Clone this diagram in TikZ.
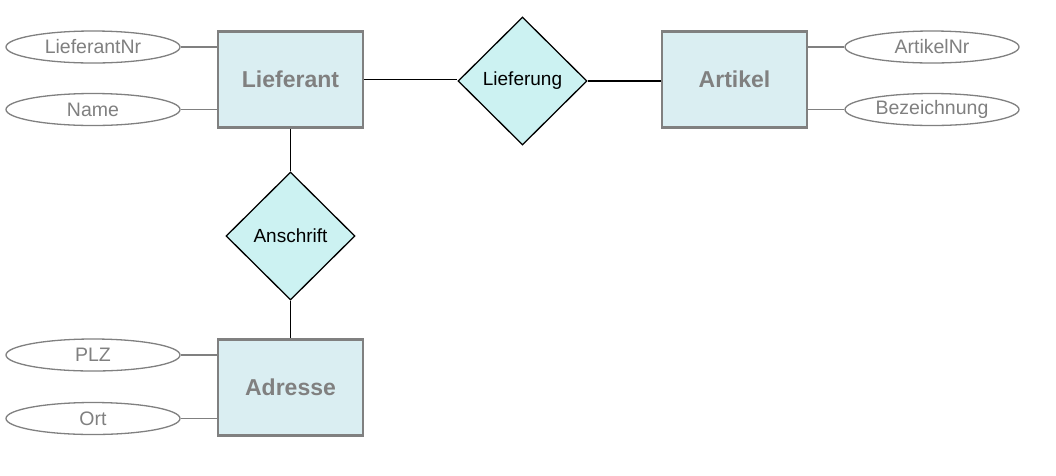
\documentclass[tikz,border=0pt]{standalone}
\usepackage{fontspec}
\setmainfont{Liberation Sans}
\usetikzlibrary{shapes.geometric}
\definecolor{entfill}{HTML}{DAEEF2}
\definecolor{relfill}{HTML}{CCF2F2}
\definecolor{grayc}{HTML}{808080}
\begin{document}
\begin{tikzpicture}[x=1pt,y=-1pt,
 entity/.style={draw=grayc, line width=2.8pt, fill=entfill, minimum width=145pt, minimum height=96pt, inner sep=0pt, font=\fontsize{23}{26}\selectfont\bfseries, text=grayc},
 relation/.style={diamond, draw=black, line width=1.3pt, fill=relfill, minimum width=129pt, minimum height=128pt, inner sep=0pt, font=\fontsize{19}{22}\selectfont},
 attr/.style={ellipse, draw=grayc, line width=1.3pt, fill=white, minimum width=174pt, minimum height=32pt, inner sep=0pt, font=\fontsize{19.5}{22}\selectfont, text=grayc},
 conn/.style={draw=black, line width=1.8pt},
 aconn/.style={draw=grayc, line width=1.6pt}]
\useasboundingbox (0,0) rectangle (1056,475);
\node[entity] (lief) at (290.5,79.5) {Lieferant};
\node[entity] (art) at (734.5,79.5) {Artikel};
\node[entity] (adr) at (290.5,387.5) {Adresse};
\node[relation] (lfg) at (522.5,81) {Lieferung};
\node[relation] (ans) at (290.5,236) {Anschrift};
\node[attr] (lnr) at (93,47) {LieferantNr};
\node[attr] (name) at (93,109.5) {Name};
\node[attr] (anr) at (932,47) {ArtikelNr};
\node[attr] (bez) at (932,109.5) {Bezeichnung};
\node[attr] (plz) at (93,355) {PLZ};
\node[attr] (ort) at (93,418.5) {Ort};
\draw[conn] (lief.east) -- (lief.east -| lfg.west);
\draw[conn] (lfg.east) -- (lfg.east -| art.west);
\draw[conn] (lief.south) -- (ans.north);
\draw[conn] (ans.south) -- (adr.north);
\draw[aconn] (lnr.east) -- (lnr.east -| lief.west);
\draw[aconn] (name.east) -- (name.east -| lief.west);
\draw[aconn] (anr.west) -- (anr.west -| art.east);
\draw[aconn] (bez.west) -- (bez.west -| art.east);
\draw[aconn] (plz.east) -- (plz.east -| adr.west);
\draw[aconn] (ort.east) -- (ort.east -| adr.west);
\end{tikzpicture}
\end{document}
